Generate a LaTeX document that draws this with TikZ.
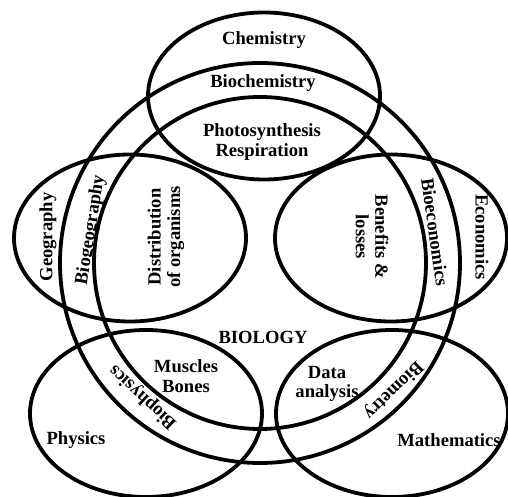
\documentclass[tikz,border=0pt]{standalone}
\usepackage{fontspec}
\setmainfont{Liberation Serif}
\usetikzlibrary{shapes.geometric}

\begin{document}
\begin{tikzpicture}[x=1pt, y=1pt,
        field/.style={ellipse, draw, line width=3.8pt, minimum width=232pt, minimum height=167pt},
        biozone/.style={circle, draw, line width=3.8pt},
        subject/.style={align=center, font=\bfseries\fontsize{18.6}{19.5}\selectfont, inner sep=0pt}
      ]
      \useasboundingbox (0,0) rectangle (508,497);

      \node[biozone, minimum size=400pt] (outer) at (260,234) {};
      \node[biozone, minimum size=332pt] (inner) at (260,234) {};

      \node[field] (chem) at (264,401) {};
      \node[field] (geo)  at (130,259) {};
      \node[field] (eco)  at (391,259) {};
      \node[field] (phys) at (146,83.5) {};
      \node[field] (math) at (392,83.5) {};

      \node[subject] (chemname) at (264,457) {Chemistry};
      \node[subject] (geoname)  at (48,260) [rotate=90] {Geography};
      \node[subject] (econame)  at (482,260) [rotate=-90] {Economics};
      \node[subject] (physname) at (76,57) {Physics};
      \node[subject] (mathname) at (449,57) {Mathematics};
      \node[subject] (bioname)  at (263,160) {BIOLOGY};

      \node[subject] (biochem) at (263,414) {Biochemistry};
      \node[subject] (biogeo)  at (91,267) [rotate=81] {Biogeography};
      \node[subject] (bioeco)  at (435,265) [rotate=-82] {Bioeconomics};
      \node[subject] (biophys) at (143,100) [rotate=137] {Biophysics};
      \node[subject] (biomet)  at (393,107) [rotate=-136] {Biometry};

      \node[subject] (photo)   at (262,355) {Photosynthesis\\ Respiration};
      \node[subject] (distrib) at (166,260) [rotate=90] {Distribution\\ of organisms};
      \node[subject] (benefit) at (372,260) [rotate=-90] {Benefits \&\\ losses};
      \node[subject] (muscle)  at (186,121) {Muscles\\ Bones};
      \node[subject] (data)    at (327,113) {Data\\ analysis};

    \end{tikzpicture}
\end{document}
